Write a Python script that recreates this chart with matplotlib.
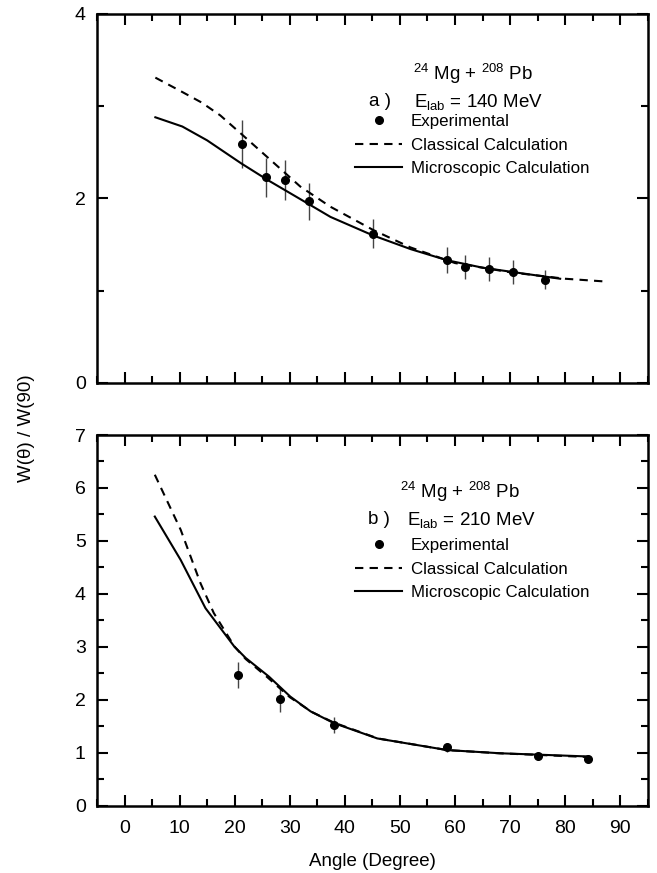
import matplotlib
matplotlib.use("Agg")
import matplotlib.pyplot as plt
from matplotlib.lines import Line2D
from matplotlib.ticker import MultipleLocator

plt.rcParams['font.family'] = ['Liberation Sans', 'DejaVu Sans']
plt.rcParams['mathtext.default'] = 'regular'

# panel a) 140 MeV
a_exp_x = [21.4, 25.7, 29.2, 33.5, 45.1, 58.6, 61.8, 66.2, 70.5, 76.4]
a_exp_y = [2.59, 2.23, 2.20, 1.97, 1.62, 1.33, 1.26, 1.24, 1.20, 1.12]
a_exp_err = [0.26, 0.21, 0.22, 0.20, 0.16, 0.14, 0.13, 0.13, 0.13, 0.10]
a_cl_x = [5.6, 10, 14, 17.4, 21.2, 25.9, 31.9, 37.4, 45.1, 51.9, 60, 70, 80, 87.3]
a_cl_y = [3.31, 3.17, 3.04, 2.90, 2.70, 2.45, 2.13, 1.91, 1.66, 1.47, 1.30, 1.20, 1.13, 1.10]
a_mi_x = [5.6, 10.5, 15, 21.2, 26, 32, 37.4, 45.1, 52, 58.6, 65, 72, 79.1]
a_mi_y = [2.88, 2.78, 2.63, 2.38, 2.20, 1.99, 1.80, 1.60, 1.45, 1.33, 1.25, 1.19, 1.13]

# panel b) 210 MeV
b_exp_x = [20.6, 28.2, 38.0, 58.6, 75.0, 84.1]
b_exp_y = [2.47, 2.01, 1.53, 1.10, 0.94, 0.88]
b_exp_err = [0.24, 0.24, 0.15, 0.08, 0.05, 0.05]
b_cl_x = [5.5, 10.2, 13.8, 16.2, 20, 22, 26, 30, 34, 38, 46, 58.6, 68, 84]
b_cl_y = [6.25, 5.21, 4.20, 3.64, 3.00, 2.77, 2.42, 2.05, 1.77, 1.57, 1.27, 1.05, 0.99, 0.92]
b_mi_x = [5.5, 10.2, 14.7, 19.9, 22, 26.2, 30.1, 33.8, 38, 45.9, 58.6, 68.2, 84]
b_mi_y = [5.46, 4.64, 3.73, 3.01, 2.79, 2.44, 2.06, 1.78, 1.56, 1.27, 1.05, 0.99, 0.93]

fig = plt.figure(figsize=(6.57, 8.73), dpi=100)
ax1 = fig.add_axes([0.1476, 0.5613, 0.8383, 0.4227])
ax2 = fig.add_axes([0.1476, 0.0771, 0.8383, 0.4246])


def style(ax, ymax, ymajor, yminor):
    ax.set_xlim(-5, 95)
    ax.set_ylim(0, ymax)
    ax.xaxis.set_major_locator(MultipleLocator(10))
    ax.xaxis.set_minor_locator(MultipleLocator(5))
    ax.yaxis.set_major_locator(MultipleLocator(ymajor))
    ax.yaxis.set_minor_locator(MultipleLocator(yminor))
    ax.tick_params(which='both', direction='in', top=True, right=True, width=1.5, labelsize=14)
    ax.tick_params(which='major', length=8)
    ax.tick_params(which='minor', length=5)
    ax.tick_params(axis='x', pad=10)
    ax.tick_params(axis='y', pad=8)
    for s in ax.spines.values():
        s.set_linewidth(1.8)


def panel(ax, ex, ey, ee, cx, cy, mx, my, label, energy, xt, yt, xl, xe, ye, yleg):
    ax.errorbar(ex, ey, yerr=ee, fmt='none', ecolor='#444444', elinewidth=1.0, capsize=0)
    ax.plot(ex, ey, 'o', color='black', markersize=5.5)
    ax.plot(cx, cy, '--', color='black', linewidth=1.5, dashes=(4, 3))
    ax.plot(mx, my, '-', color='black', linewidth=1.5)
    ax.text(xt, yt, '$^{24}$ Mg + $^{208}$ Pb', transform=ax.transAxes, ha='center', va='center', fontsize=13.5)
    ax.text(xl, ye, label + ')', transform=ax.transAxes, ha='left', va='center', fontsize=13.5)
    ax.text(xe, ye, 'E$_{lab}$ = ' + energy + ' MeV', transform=ax.transAxes,
            ha='left', va='center', fontsize=13.5)
    handles = [Line2D([], [], marker='o', color='black', linestyle='none', markersize=5.5),
               Line2D([], [], color='black', linestyle='--', dashes=(4, 3), linewidth=1.5),
               Line2D([], [], color='black', linewidth=1.5)]
    ax.legend(handles, ['Experimental', 'Classical Calculation', 'Microscopic Calculation'],
              loc='upper left', bbox_to_anchor=(0.4685, yleg), frameon=False, fontsize=12.2,
              handlelength=2.8, handletextpad=0.5, labelspacing=0.5, borderaxespad=0, borderpad=0)


panel(ax1, a_exp_x, a_exp_y, a_exp_err, a_cl_x, a_cl_y, a_mi_x, a_mi_y,
      'a ', '140', 0.682, 0.838, 0.494, 0.576, 0.762, 0.728)
panel(ax2, b_exp_x, b_exp_y, b_exp_err, b_cl_x, b_cl_y, b_mi_x, b_mi_y,
      'b ', '210', 0.659, 0.846, 0.492, 0.563, 0.772, 0.722)

style(ax1, 4, 2, 1)
style(ax2, 7, 1, 0.5)
ax1.tick_params(labelbottom=False)
ax2.set_xlabel('Angle (Degree)', fontsize=13.5, labelpad=12)
fig.text(0.04, 0.51, 'W(θ) / W(90)', rotation=90, ha='center', va='center', fontsize=13.5)

fig.savefig('out.png', dpi=100)
